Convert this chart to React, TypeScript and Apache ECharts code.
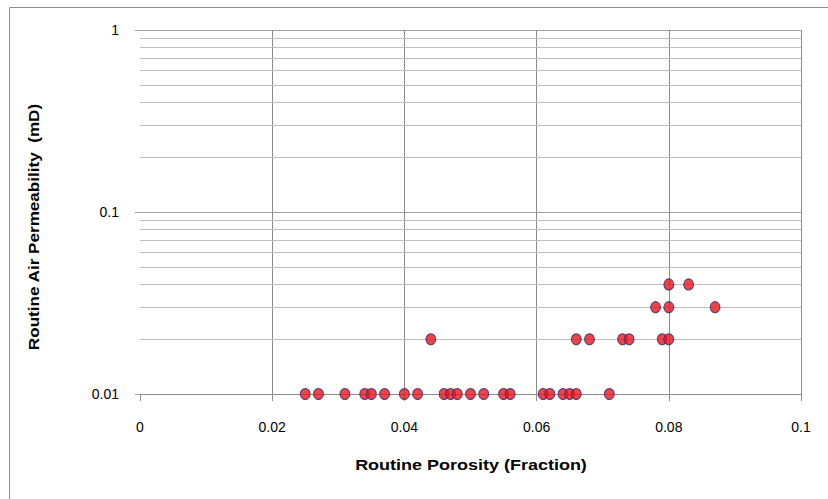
import React, { useEffect, useRef } from "react";
import * as echarts from "echarts";

const porosityAt001 = [0.025, 0.027, 0.031, 0.034, 0.035, 0.037, 0.04, 0.042, 0.046, 0.047, 0.048, 0.05, 0.052, 0.055, 0.056, 0.061, 0.062, 0.064, 0.065, 0.066, 0.071];
const porosityAt002 = [0.044, 0.066, 0.068, 0.073, 0.074, 0.079, 0.08];
const porosityAt003 = [0.078, 0.08, 0.087];
const porosityAt004 = [0.08, 0.083];
const permLevels = [0.01, 0.02, 0.03, 0.04];
const minorGridValues = [0.02, 0.03, 0.04, 0.05, 0.06, 0.07, 0.08, 0.09, 0.2, 0.3, 0.4, 0.5, 0.6, 0.7, 0.8, 0.9];
const xTitle = "Routine Porosity (Fraction)";
const yTitle = "Routine Air Permeability  (mD)";

export default function App() {
  const ref = useRef<HTMLDivElement>(null);
  useEffect(() => {
    if (!ref.current) return;
    const chart = echarts.init(ref.current, null, { renderer: "svg" });
    const groups = [porosityAt001, porosityAt002, porosityAt003, porosityAt004];
    const points: number[][] = [];
    groups.forEach((g, i) => g.forEach((x) => points.push([x, permLevels[i]])));
    const labelFont = "'Liberation Sans Narrow', 'Liberation Sans', Arial, sans-serif";
    chart.setOption({
      animation: false,
      backgroundColor: "#ffffff",
      grid: { left: 140, right: 27, top: 30, bottom: 105, containLabel: false },
      xAxis: {
        type: "value",
        min: 0,
        max: 0.1,
        interval: 0.02,
        axisLine: { show: true, lineStyle: { color: "#8c8c8c", width: 1 } },
        axisTick: { show: true, length: 7, lineStyle: { color: "#8c8c8c" } },
        axisLabel: {
          margin: 26,
          fontFamily: labelFont,
          fontSize: 14,
          color: "#000",
          formatter: (v: number) => String(+v.toFixed(2)),
        },
        splitLine: { show: true, showMinLine: false, lineStyle: { color: "#8c8c8c", width: 1 } },
      },
      yAxis: {
        type: "log",
        logBase: 10,
        min: 0.01,
        max: 1,
        axisLine: { show: false },
        axisTick: { show: true, length: 5, lineStyle: { color: "#a0a0a0" } },
        axisLabel: {
          margin: 21,
          fontFamily: labelFont,
          fontSize: 14,
          color: "#000",
          formatter: (v: number) => (v >= 1 ? "1" : v >= 0.1 ? "0.1" : "0.01"),
        },
        splitLine: { show: true, lineStyle: { color: "#a0a0a0", width: 1 } },
      },
      graphic: [
        {
          type: "rect",
          shape: { x: 9.5, y: 7.5, width: 840, height: 520 },
          style: { fill: "none", stroke: "#8c8c8c", lineWidth: 1 },
          silent: true,
          z: -10,
        },
        {
          type: "text",
          x: 471,
          y: 465,
          scaleX: 1.2,
          style: {
            text: xTitle,
            fontFamily: "'Liberation Sans', Arial, sans-serif",
            fontWeight: "bold",
            fontSize: 15,
            fill: "#000",
            align: "center",
            verticalAlign: "middle",
          },
        },
        {
          type: "text",
          x: 33,
          y: 227,
          rotation: Math.PI / 2,
          scaleX: 1.14,
          style: {
            text: yTitle,
            fontFamily: "'Liberation Sans', Arial, sans-serif",
            fontWeight: "bold",
            fontSize: 15,
            fill: "#000",
            align: "center",
            verticalAlign: "middle",
          },
        },
      ],
      series: [
        {
          type: "scatter",
          data: [],
          silent: true,
          z: 1,
          markLine: {
            silent: true,
            symbol: ["none", "none"],
            label: { show: false },
            lineStyle: { color: "#bdbdbd", type: "solid", width: 1 },
            data: minorGridValues.map((v) => ({ yAxis: v })),
          },
        },
        {
          type: "scatter",
          data: points,
          z: 5,
          symbol: "circle",
          symbolSize: [10, 11],
          itemStyle: { color: "#e8141c", borderColor: "#2a2a70", borderWidth: 1 },
        },
      ],
    });
    return () => chart.dispose();
  }, []);
  return (
    <div
      ref={ref}
      style={{ position: "absolute", left: 0, top: 0, width: 828, height: 499 }}
    />
  );
}
